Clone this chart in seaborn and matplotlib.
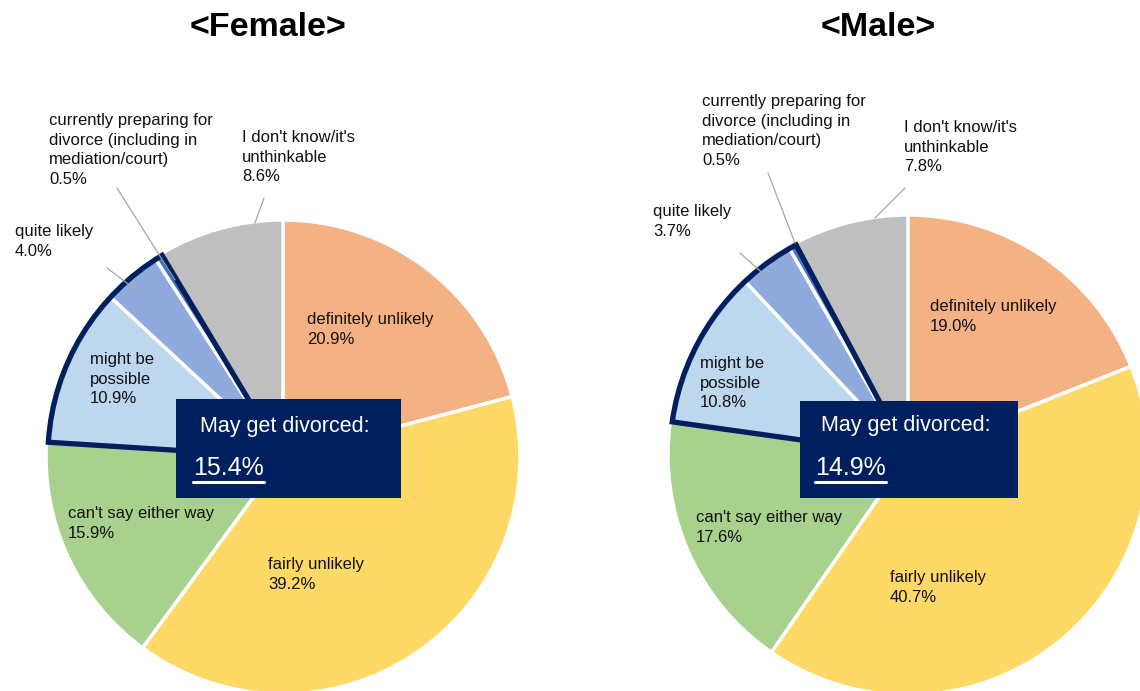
import matplotlib
matplotlib.use("Agg")
import matplotlib.pyplot as plt
from matplotlib.patches import Wedge, Rectangle
from matplotlib.lines import Line2D
import seaborn as sns

# data
categories = ["definitely unlikely", "fairly unlikely", "can't say either way",
              "might be possible", "quite likely",
              "currently preparing for divorce (including in mediation/court)",
              "I don't know/it's unthinkable"]
label_text = ["definitely unlikely", "fairly unlikely", "can't say either way",
              "might be\npossible", "quite likely",
              "currently preparing for\ndivorce (including in\nmediation/court)",
              "I don't know/it's\nunthinkable"]
female = [20.9, 39.2, 15.9, 10.9, 4.0, 0.5, 8.6]
male = [19.0, 40.7, 17.6, 10.8, 3.7, 0.5, 7.8]
female_may = 15.4
male_may = 14.9
colors = ["#F4B183", "#FFD966", "#A9D18E", "#BDD7EE", "#8FAADC", "#4472C4", "#BFBFBF"]
navy = "#001F5F"

sns.set_theme(style="white")
plt.rcParams['font.family'] = ['Liberation Sans', 'DejaVu Sans']

W, H = 1140, 691
fig = plt.figure(figsize=(W / 100, H / 100), dpi=100)
fig.patch.set_facecolor("white")

def fx(x):
    return x / W

def fy(y):
    return 1 - y / H

def draw_pie(values, total, title, center, r, title_x, label_pos, leaders, box, may_xy, pct_xy):
    cx, cy = center
    ax = fig.add_axes([(cx - r) / W, (H - cy - r) / H, 2 * r / W, 2 * r / H])
    wedges, _ = ax.pie(values, colors=colors, startangle=90, counterclock=False,
                       wedgeprops=dict(edgecolor="white", linewidth=2.5))
    ax.set_xlim(-1, 1)
    ax.set_ylim(-1, 1)
    ax.axis("off")
    for w in wedges:
        w.set_clip_on(False)
    # outline around "may get divorced" group
    t1 = wedges[5].theta1
    t2 = wedges[3].theta2
    ax.add_patch(Wedge((0, 0), 0.992, t1, t2, fill=False, edgecolor=navy,
                       linewidth=3.8, joinstyle="miter", zorder=5, clip_on=False))

    fig.text(fx(title_x), fy(28), title, ha="center", va="center", fontsize=24.5,
             fontweight="bold", color="black")

    for txt, v, (x, y) in zip(label_text, values, label_pos):
        fig.text(fx(x), fy(y), f"{txt}\n{v:.1f}%", ha="left", va="top", fontsize=12,
                 color="#111111", linespacing=1.38)
    for (x0, y0, x1, y1) in leaders:
        fig.add_artist(Line2D([fx(x0), fx(x1)], [fy(y0), fy(y1)], color="#A6A6A6", lw=0.9))

    bx0, by0, bx1, by1 = box
    fig.add_artist(Rectangle((fx(bx0), fy(by1)), (bx1 - bx0) / W, (by1 - by0) / H,
                             transform=fig.transFigure, facecolor=navy, edgecolor="none", zorder=10))
    fig.text(fx(may_xy[0]), fy(may_xy[1]), "May get divorced:", ha="left", va="center",
             fontsize=15.5, color="white", zorder=11)
    t = fig.text(fx(pct_xy[0]), fy(pct_xy[1]), f"{total:.1f}%", ha="left", va="center",
                 fontsize=18, color="white", zorder=11)
    return t

pct_texts = []
pct_texts.append(draw_pie(
    female, female_may, "<Female>", (283, 457), 237, 268,
    [(307, 312), (268, 557), (68, 506), (90, 352), (15, 224), (49, 113), (242, 130)],
    [(107, 268, 148, 299), (117, 188, 175, 280), (264, 198, 255, 223)],
    (176, 399, 401, 498), (200, 427), (193, 468)))
pct_texts.append(draw_pie(
    male, male_may, "<Male>", (908, 455), 240, 878,
    [(930, 299), (890, 570), (696, 510), (700, 356), (653, 204), (702, 94), (904, 120)],
    [(740, 253, 768, 278), (768, 173, 795, 243), (905, 188, 875, 218)],
    (800, 401, 1018, 498), (821, 426), (815, 468)))

# underline the percentage values
fig.canvas.draw()
renderer = fig.canvas.get_renderer()
for t in pct_texts:
    bb = t.get_window_extent(renderer)
    y = (bb.y0 - 1.5) / H
    fig.add_artist(Line2D([bb.x0 / W, bb.x1 / W], [y, y], color="white", lw=2.2, zorder=12))

fig.savefig("out.png", dpi=100, facecolor="white")
